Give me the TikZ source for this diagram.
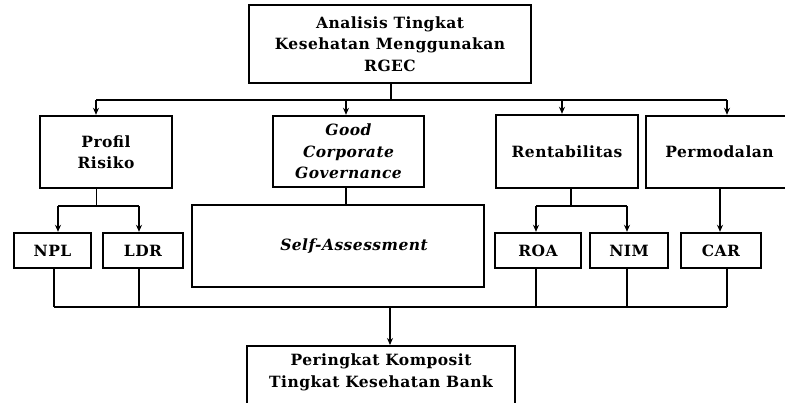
\documentclass[tikz,border=0pt]{standalone}
\usepackage{fontspec}
\setmainfont{DejaVu Serif}[LetterSpace=3]
\usetikzlibrary{arrows.meta}
\begin{document}
\begin{tikzpicture}[x=1pt,y=-1pt,
  box/.style={draw, line width=2.4pt, align=center, inner sep=0pt,
    font=\fontsize{15.5}{21.5}\selectfont\bfseries},
  conn/.style={line width=1.3pt},
  arr/.style={line width=1.3pt,-{Stealth[length=7pt,width=6pt]}}]
\useasboundingbox (0,0) rectangle (785,402);
\node[box, minimum width=282, minimum height=78] (top) at (390,44) {Analisis Tingkat\\Kesehatan Menggunakan\\RGEC};
\node[box, minimum width=132, minimum height=72] (prof) at (106,152) {Profil\\Risiko};
\node[box, minimum width=151, minimum height=71] (gcg) at (348.5,151.5) {\itshape Good\\\itshape Corporate\\\itshape Governance};
\node[box, minimum width=142, minimum height=73] (rent) at (567,151.5) {Rentabilitas};
\node[box, minimum width=147, minimum height=72] (perm) at (719.5,152) {Permodalan};
\node[box, minimum width=77, minimum height=35] (npl) at (52.5,250.5) {NPL};
\node[box, minimum width=80, minimum height=35] (ldr) at (143,250.5) {LDR};
\node[box, minimum width=292, minimum height=82] (self) at (338,246) {\hspace*{32pt}\itshape Self-Assessment};
\node[box, minimum width=86, minimum height=35] (roa) at (538,250.5) {ROA};
\node[box, minimum width=78, minimum height=35] (nim) at (629,250.5) {NIM};
\node[box, minimum width=80, minimum height=35] (car) at (721,250.5) {CAR};
\node[box, minimum width=268, minimum height=62, anchor=north] (bot) at (381,345) {};
\node[font=\fontsize{15.5}{21.5}\selectfont\bfseries, align=center, inner sep=0pt] (bottxt) at (381,372.5) {Peringkat Komposit\\Tingkat Kesehatan Bank};
% top bus
\coordinate (t0) at (391,100);
\coordinate (t1) at (96,100);
\coordinate (t2) at (346,100);
\coordinate (t3) at (562,100);
\coordinate (t4) at (727,100);
\draw[conn] (top.south -| t0) -- (t0);
\draw[conn] (t1) -- (t4);
\draw[arr] (t1) -- (t1 |- prof.north);
\draw[arr] (t2) -- (t2 |- gcg.north);
\draw[arr] (t3) -- (t3 |- rent.north);
\draw[arr] (t4) -- (t4 |- perm.north);
% profil
\coordinate (p0) at (96.5,206);
\coordinate (p1) at (58,206);
\coordinate (p2) at (139,206);
\draw[conn] (prof.south -| p0) -- (p0);
\draw[conn] (p1) -- (p2);
\draw[arr] (p1) -- (p1 |- npl.north);
\draw[arr] (p2) -- (p2 |- ldr.north);
% gcg
\draw[conn] (gcg.south -| t2) -- (t2 |- self.north);
% rentabilitas
\coordinate (r0) at (571,206);
\coordinate (r1) at (536,206);
\coordinate (r2) at (627,206);
\draw[conn] (rent.south -| r0) -- (r0);
\draw[conn] (r1) -- (r2);
\draw[arr] (r1) -- (r1 |- roa.north);
\draw[arr] (r2) -- (r2 |- nim.north);
% permodalan
\coordinate (m0) at (720,188);
\draw[arr] (perm.south -| m0) -- (m0 |- car.north);
% bottom bus
\coordinate (b1) at (54,307);
\coordinate (b2) at (139,307);
\coordinate (b3) at (536,307);
\coordinate (b4) at (627,307);
\coordinate (b5) at (727,307);
\coordinate (b0) at (390,307);
\draw[conn] (npl.south -| b1) -- (b1);
\draw[conn] (ldr.south -| b2) -- (b2);
\draw[conn] (roa.south -| b3) -- (b3);
\draw[conn] (nim.south -| b4) -- (b4);
\draw[conn] (car.south -| b5) -- (b5);
\draw[conn] (b1) -- (b5);
\draw[arr] (b0) -- (b0 |- bot.north);
\end{tikzpicture}
\end{document}
